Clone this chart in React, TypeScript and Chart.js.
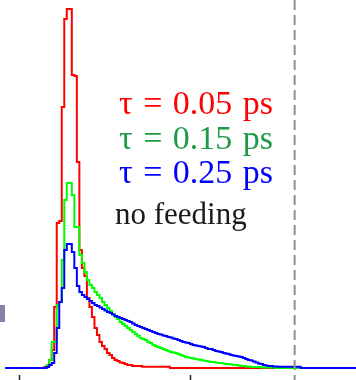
import { useEffect, useRef } from "react";
import { Chart, registerables } from "chart.js";

Chart.register(...registerables);

// histogram bins: index of first bin, unit = one bin
const binStart = 10;
const redCounts = [
  1, 2, 8, 18, 61, 145, 147, 261, 349, 359, 359, 293, 292, 206, 118, 100, 92, 70, 61, 51,
  40, 33, 26, 22, 19, 15, 13, 10, 8, 7, 5.5, 5, 4, 3, 3, 2, 2, 2, 2, 1.3,
  1.3, 1.3, 1.3, 1.3, 1.3, 1.3, 1.3, 1.3, 1.3, 1.3,
];
const greenCounts = [
  0, 3, 8, 26, 26, 63, 66, 108, 168, 185, 185, 173, 141, 141, 113, 105, 96, 88, 83, 80,
  76, 73, 70, 66, 63, 60, 57, 54, 51, 49, 46, 44, 42, 40, 38, 36, 34, 32, 30, 29,
  28, 26, 25, 23, 22, 21, 20, 19, 18, 17, 16, 15.5, 15, 14, 13, 12, 11, 10.5, 10, 9.5,
  9, 8.5, 8, 7.5, 7, 6.5, 6, 6, 5.5, 5, 5, 4.5, 4, 4, 3.5, 3, 3, 2.5, 2, 2,
  1.5, 1.5, 1, 1, 1, 1, 0.7, 0.5, 0.5, 0.5, 0.5, 0.5,
];
const blueCounts = [
  0, 1, 3, 5, 15, 40, 66, 80, 118, 124, 124, 116, 100, 82, 76, 73, 71, 69, 67, 65,
  63, 62, 60.5, 59, 57.5, 56, 55, 53.5, 52, 51, 50, 49, 48, 47, 46, 44.5, 43, 42, 41, 40,
  39, 38, 37, 36, 35, 34, 33.5, 32.5, 32, 31, 30.5, 29.5, 29, 28, 27, 26, 25.5, 25, 24, 23,
  22.5, 22, 21.5, 21, 20, 19, 19, 18, 17, 16.5, 16, 15, 14.5, 14, 13, 12.5, 12, 11.5, 11, 10,
  9, 8, 7.5, 6.5, 5.5, 4.5, 4, 3, 2.5, 2, 2, 1.5, 1.5, 1.3, 1.3, 1.3, 1.3, 1.3, 1.3, 1.3,
  1.3, 1.3,
];

const seriesLabels = ["τ = 0.05 ps", "τ = 0.15 ps", "τ = 0.25 ps"];
const noteLabel = "no feeding";
const lineColors = ["#ff0000", "#00ff00", "#0000ff"];
const textColors = ["#ff0000", "#1f9a48", "#0000ff"];
const xTicks = [0, 68];
const cutoffX = 109.6;
const xMin = -7.555;
const xMax = 134.0;
const dataStart = -5.5;
const dataEnd = 140;

function toSteps(counts: number[]) {
  const pts: { x: number; y: number }[] = [{ x: dataStart, y: 0 }];
  counts.forEach((c, i) => pts.push({ x: binStart + i, y: c }));
  pts.push({ x: binStart + counts.length, y: 0 });
  pts.push({ x: dataEnd, y: 0 });
  return pts;
}

const decorPlugin = {
  id: "decor",
  afterDatasetsDraw(chart: any) {
    const ctx = chart.ctx as CanvasRenderingContext2D;
    const xs = chart.scales.x;
    const h = chart.height;
    ctx.save();
    // cutoff dashed line
    const cx = xs.getPixelForValue(cutoffX);
    ctx.strokeStyle = "#8f8f8f";
    ctx.lineWidth = 2;
    ctx.setLineDash([10, 5]);
    ctx.beginPath();
    ctx.moveTo(cx, 0);
    ctx.lineTo(cx, h);
    ctx.stroke();
    ctx.setLineDash([]);
    // tick marks (axis below the crop)
    ctx.strokeStyle = "#222";
    ctx.lineWidth = 1.5;
    xTicks.forEach((t) => {
      const tx = Math.round(xs.getPixelForValue(t)) + 0.5;
      ctx.beginPath();
      ctx.moveTo(tx, h - 5);
      ctx.lineTo(tx, h);
      ctx.stroke();
    });
    // cut-off purple box at the left edge
    ctx.fillStyle = "#8a80a8";
    ctx.fillRect(0, 305, 5, 17);
    // legend text
    ctx.textBaseline = "alphabetic";
    ctx.textAlign = "left";
    ctx.font = '34px "Liberation Serif", serif';
    (ctx as any).wordSpacing = "2px";
    seriesLabels.forEach((s, i) => {
      ctx.fillStyle = textColors[i];
      ctx.fillText(s, 119, 114 + i * 34.5);
    });
    (ctx as any).wordSpacing = "0px";
    ctx.fillStyle = "#1a1a1a";
    ctx.font = '31px "Liberation Serif", serif';
    ctx.fillText(noteLabel, 115, 224);
    ctx.restore();
  },
};

export default function App() {
  const ref = useRef<HTMLCanvasElement | null>(null);
  useEffect(() => {
    if (!ref.current) return;
    const series = [blueCounts, greenCounts, redCounts];
    const colors = [lineColors[2], lineColors[1], lineColors[0]];
    const names = [seriesLabels[2], seriesLabels[1], seriesLabels[0]];
    const chart = new Chart(ref.current, {
      type: "line",
      data: {
        datasets: series.map((c, i) => ({
          label: names[i],
          data: toSteps(c),
          borderColor: colors[i],
          backgroundColor: colors[i],
          borderWidth: 2,
          stepped: true,
          pointRadius: 0,
          fill: false,
          borderJoinStyle: "miter",
          borderCapStyle: "butt",
          tension: 0,
        })),
      },
      options: {
        animation: false,
        responsive: false,
        layout: { padding: 0 },
        events: [],
        scales: {
          x: { type: "linear", min: xMin, max: xMax, display: false },
          y: { type: "linear", min: -12, max: 368, display: false },
        },
        plugins: { legend: { display: false }, tooltip: { enabled: false } },
      },
      plugins: [decorPlugin],
    } as any);
    return () => chart.destroy();
  }, []);
  return (
    <div style={{ position: "absolute", left: 0, top: 0, width: 356, height: 380, background: "#fff" }}>
      <canvas ref={ref} width={356} height={380} />
    </div>
  );
}
